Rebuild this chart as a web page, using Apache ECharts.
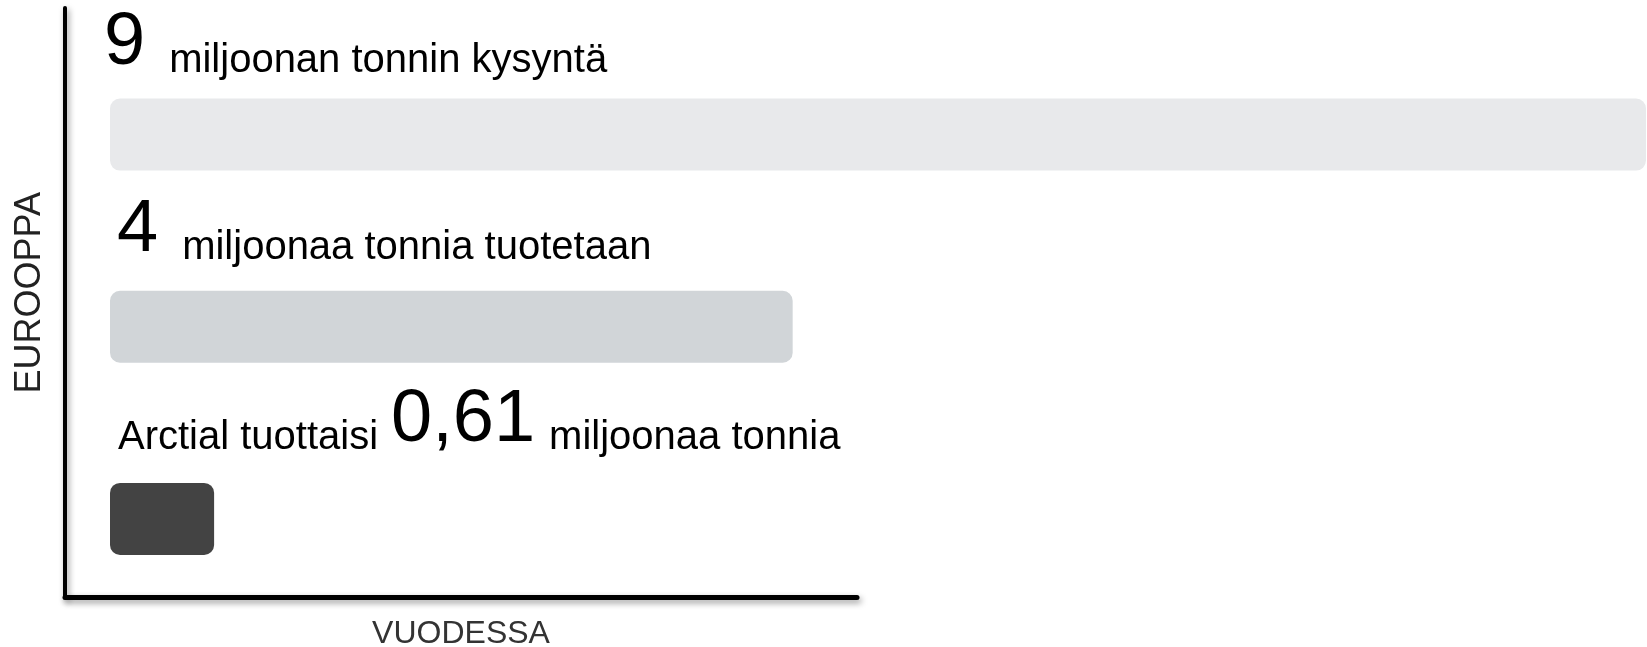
<!DOCTYPE html>
<html>
<head>
<meta charset="utf-8">
<script src="https://cdn.jsdelivr.net/npm/echarts@6/dist/echarts.min.js"></script>
<style>
html, body { margin: 0; padding: 0; background: #fff; }
#main { width: 1647px; height: 647px; }
</style>
</head>
<body>
<div id="main"></div>
<script>
// Eurooppa, miljoonaa tonnia vuodessa
var categories = ['Kysyntä', 'Tuotanto', 'Arctial'];
var values = [9, 4, 0.61];
var textBefore = ['', '', 'Arctial tuottaisi'];
var textAfter = ['miljoonan tonnin kysyntä', 'miljoonaa tonnia tuotetaan', 'miljoonaa tonnia'];
var axisNameX = 'VUODESSA';
var axisNameY = 'EUROOPPA';

var barColors = ['#e8e9eb', '#d1d5d8', '#434343'];
// label offset from bar top-left, and space left/right of the big number
var labelPos = [[-6, -18], [7, -23], [8, -25]];
var numPad = [[0, 24], [0, 24], [13, 14]];

var font = "'Liberation Sans', Arial, sans-serif";

var barData = values.map(function (v, i) {
    var num = String(v).replace('.', ',');
    var txt = (textBefore[i] ? '{t|' + textBefore[i] + '}' : '') +
        '{n|' + num + '}{t|' + textAfter[i] + '}';
    return {
        value: v,
        itemStyle: { color: barColors[i], borderRadius: 10 },
        label: {
            show: true,
            position: labelPos[i],
            align: 'left',
            verticalAlign: 'bottom',
            formatter: txt,
            rich: {
                n: {
                    fontSize: 74, lineHeight: 74, fontFamily: font, color: '#000',
                    verticalAlign: 'bottom', padding: [0, numPad[i][1], 0, numPad[i][0]]
                },
                t: {
                    fontSize: 40, lineHeight: 53, fontFamily: font, color: '#000',
                    verticalAlign: 'bottom'
                }
            }
        }
    };
});

var chart = echarts.init(document.getElementById('main'));

var axisShadow = {
    color: '#000',
    shadowColor: 'rgba(0,0,0,0.4)',
    shadowBlur: 6,
    shadowOffsetX: 2,
    shadowOffsetY: 3
};

var option = {
    animation: false,
    grid: [
        // bars
        {left: 110, right: 1, top: 38.5, bottom: 32, outerBoundsMode: 'none'},
        // the two black axis lines
        {left: 65, right: 790, top: 8, bottom: 49.5, outerBoundsMode: 'none'}
    ],
    xAxis: [
        {gridIndex: 0, type: 'value', min: 0, max: 9, show: false},
        {
            gridIndex: 1, type: 'value', min: 0, max: 1,
            axisLine: {show: true, onZero: false, lineStyle: Object.assign({width: 5}, axisShadow)},
            axisTick: {show: false}, axisLabel: {show: false}, splitLine: {show: false},
            name: axisNameX, nameLocation: 'middle', nameGap: 21,
            nameTextStyle: {fontSize: 32, fontFamily: font, color: '#333'}
        }
    ],
    yAxis: [
        {gridIndex: 0, type: 'category', data: categories, inverse: true, show: false},
        {
            gridIndex: 1, type: 'value', min: 0, max: 1,
            axisLine: {show: true, onZero: false, lineStyle: Object.assign({width: 4}, axisShadow)},
            axisTick: {show: false}, axisLabel: {show: false}, splitLine: {show: false},
            name: axisNameY, nameLocation: 'middle', nameGap: 17, nameRotate: 90,
            nameTextStyle: {fontSize: 36, fontFamily: font, color: '#222', padding: [0, 0, 0, 20]}
        }
    ],
    series: [
        {
            type: 'bar',
            xAxisIndex: 0,
            yAxisIndex: 0,
            barWidth: 72,
            silent: true,
            data: barData
        }
    ]
};

chart.setOption(option);
</script>
</body>
</html>
